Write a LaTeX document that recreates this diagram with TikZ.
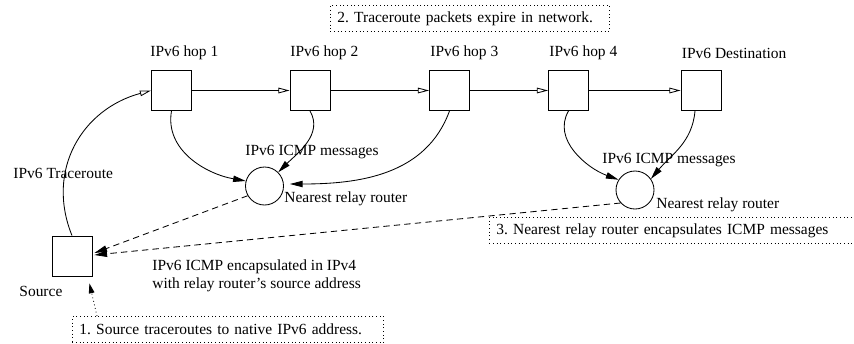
\documentclass[tikz,border=0pt]{standalone}
\usepackage{fontspec}
\setmainfont{Liberation Serif}
\usetikzlibrary{arrows.meta, calc}
\frenchspacing

\begin{document}
\begin{tikzpicture}[x=0.025cm, y=-0.025cm, line width=0.6pt,
  font=\fontsize{11}{13}\selectfont,
  hop/.style={draw, minimum size=1cm, inner sep=0pt},
  relay/.style={circle, draw, minimum size=0.95cm, inner sep=0pt},
  lbl/.style={inner sep=0pt, anchor=west},
  note/.style={draw, dotted, anchor=north west, align=left,
               inner xsep=0.175cm, inner ysep=0pt},
  fwd/.style={-{Triangle[open,length=8pt,width=4pt]}},
  icmp/.style={-{Triangle[length=9pt,width=4.5pt]}},
  encap/.style={icmp, dash pattern=on 4.5pt off 3pt},
  hint/.style={-{Triangle[length=7pt,width=4pt]}, dotted}
]
\useasboundingbox (0,0) rectangle (854,343);

% ── IPv6 hops ───────────────────────────────────────────
\node[hop] (h1)  at (171.5,90.5) {};
\node[hop] (h2)  at (310,90.5)   {};
\node[hop] (h3)  at (449.5,90.5) {};
\node[hop] (h4)  at (568.5,90.5) {};
\node[hop] (dst) at (701,90.5)   {};
\node[lbl] (h1l)  at (150,53)   {IPv6 hop 1};
\node[lbl] (h2l)  at (290,53)   {IPv6 hop 2};
\node[lbl] (h3l)  at (430,53)   {IPv6 hop 3};
\node[lbl] (h4l)  at (549,53)   {IPv6 hop 4};
\node[lbl] (dstl) at (681.5,53) {IPv6 Destination};
\draw[fwd] (h1)--(h2); \draw[fwd] (h2)--(h3);
\draw[fwd] (h3)--(h4); \draw[fwd] (h4)--(dst);

% ── Source ──────────────────────────────────────────────
\node[hop] (src) at (72,256) {};
\node[lbl] (srcl) at (19,291)  {Source};
\node[lbl] (trl)  at (13,173)  {IPv6 Traceroute};
\draw[fwd] (src.north) to[out=112,in=195,looseness=1.1] (h1.west);

% ── Relay routers ───────────────────────────────────────
\node[relay] (r1) at (264.5,186) {};
\node[lbl] (r1m) at (245,152) {IPv6 ICMP messages};
\node[lbl] (r1n) at (284,199) {Nearest relay router};
\draw[icmp] (h1.south) to[out=-100,in=170] (r1.165);
\draw[icmp] (h2.south) to[out=-60,in=45] (r1.45);
\draw[icmp] (h3.south) to[out=-110,in=0] ($(r1.east)+(6,-2)$);

\node[relay] (r2) at (635,190) {};
\node[lbl] (r2m) at (602,160) {IPv6 ICMP messages};
\node[lbl] (r2n) at (656,205) {Nearest relay router};
\draw[icmp] (h4.south) to[out=-120,in=160] (r2.148);
\draw[icmp] ($(dst.south)+(-6,0)$) to[out=-95,in=50] (r2.35);

% ── Encapsulated replies ────────────────────────────────
\draw[encap] (r1.210) -- ($(src.east)+(2,-3)$);
\draw[encap] (r2.222) -- ($(src.east)+(2,-1)$);
\node[lbl, align=left] (encl) at (152,276)
  {IPv6 ICMP encapsulated in IPv4\\with relay router's source address};

% ── Steps ───────────────────────────────────────────────
\node[note, text width=6.625cm, minimum height=0.65cm] (n2) at (330,5)
  {2. Traceroute packets expire in network.};
\node[note, text width=7.425cm, minimum height=0.65cm] (n1) at (72,316)
  {1. Source traceroutes to native IPv6 address.};
\node[note, text width=9.2cm, minimum height=0.65cm] (n3) at (489,217)
  {3. Nearest relay router encapsulates ICMP messages};
\draw[hint] ($(n1.north west)+(25,0)$) -- ($(src.south east)+(-3,7)$);

\end{tikzpicture}
\end{document}
